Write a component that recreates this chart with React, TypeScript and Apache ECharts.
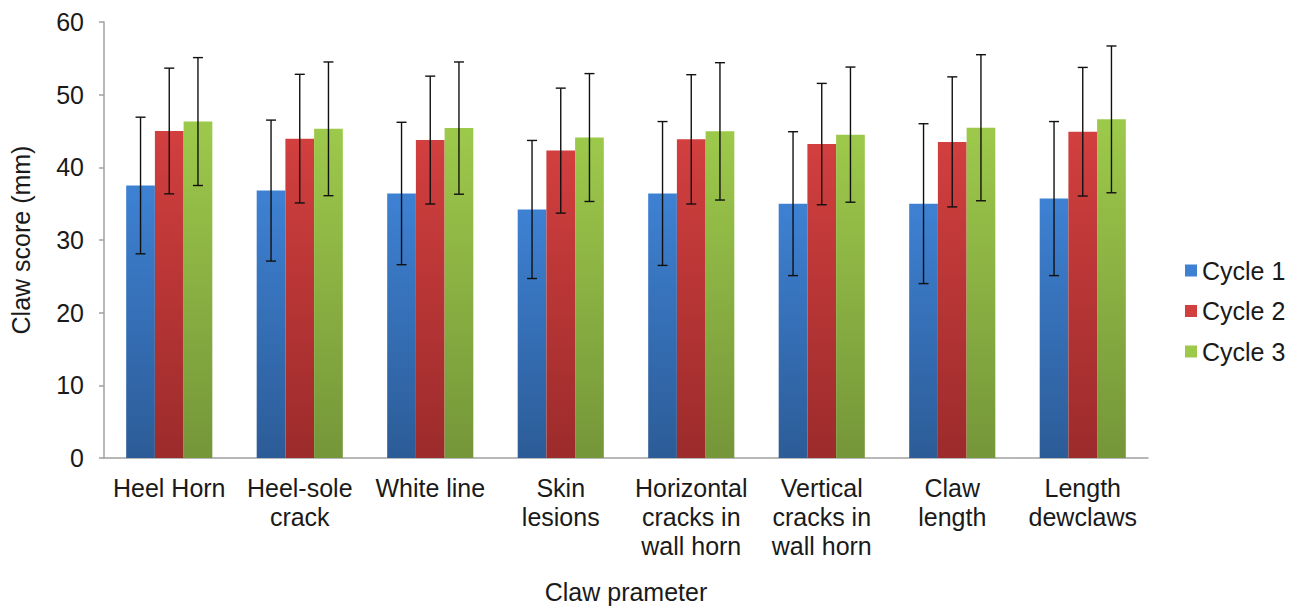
import React, { useEffect, useRef } from "react";
import * as echarts from "echarts";

const categories = [
  "Heel Horn",
  "Heel-sole\ncrack",
  "White line",
  "Skin\nlesions",
  "Horizontal\ncracks in\nwall horn",
  "Vertical\ncracks in\nwall horn",
  "Claw\nlength",
  "Length\ndewclaws",
];
const seriesNames = ["Cycle 1", "Cycle 2", "Cycle 3"];
const cycle1Mean = [37.5, 36.8, 36.4, 34.2, 36.4, 35.0, 35.0, 35.7];
const cycle1Sd = [9.4, 9.7, 9.8, 9.5, 9.9, 9.9, 11.0, 10.6];
const cycle2Mean = [45.0, 43.95, 43.75, 42.3, 43.85, 43.2, 43.5, 44.9];
const cycle2Sd = [8.65, 8.85, 8.8, 8.6, 8.9, 8.35, 8.95, 8.85];
const cycle3Mean = [46.3, 45.3, 45.4, 44.1, 44.95, 44.5, 45.45, 46.6];
const cycle3Sd = [8.8, 9.2, 9.1, 8.8, 9.45, 9.3, 10.05, 10.1];
const yTicks = { min: 0, max: 60, interval: 10 };

const FONT = "Arial, 'Liberation Sans', sans-serif";
const colors = [
  ["#3e81d3", "#2c5c97"],
  ["#d23f3f", "#9c2b2b"],
  ["#9dc94b", "#759639"],
];
const CAT_GAP = 0.34;

export default function App() {
  const ref = useRef<HTMLDivElement>(null);
  useEffect(() => {
    if (!ref.current) return;
    const chart = echarts.init(ref.current, null, { renderer: "svg" });
    const means = [cycle1Mean, cycle2Mean, cycle3Mean];
    const sds = [cycle1Sd, cycle2Sd, cycle3Sd];
    const grad = (c: string[]) =>
      new echarts.graphic.LinearGradient(0, 0, 0, 1, [
        { offset: 0, color: c[0] },
        { offset: 1, color: c[1] },
      ]);
    const barSeries = seriesNames.map((name, k) => ({
      name,
      type: "bar",
      data: means[k],
      barGap: "0%",
      barCategoryGap: CAT_GAP * 100 + "%",
      itemStyle: { color: grad(colors[k]) },
      z: 2,
    }));
    const errSeries = seriesNames.map((name, k) => ({
      name: name + " error",
      type: "custom",
      z: 5,
      encode: { x: 0, y: 1 },
      data: means[k].map((m, i) => [i, m, sds[k][i]]),
      renderItem: (params: any, api: any) => {
        const idx = api.value(0);
        const m = api.value(1);
        const sd = api.value(2);
        const c = api.coord([idx, m]);
        const band = api.size([1, 0])[0];
        const bw = (band * (1 - CAT_GAP)) / 3;
        const x = c[0] + (k - 1) * bw;
        const top = api.coord([idx, m + sd])[1];
        const bot = api.coord([idx, m - sd])[1];
        const st = { stroke: "#111", lineWidth: 1.4 };
        return {
          type: "group",
          children: [
            { type: "line", shape: { x1: x, y1: top, x2: x, y2: bot }, style: st },
            { type: "line", shape: { x1: x - 5, y1: top, x2: x + 5, y2: top }, style: st },
            { type: "line", shape: { x1: x - 5, y1: bot, x2: x + 5, y2: bot }, style: st },
          ],
        };
      },
    }));
    chart.setOption({
      animation: false,
      backgroundColor: "#ffffff",
      textStyle: { fontFamily: FONT },
      grid: { left: 103, right: 155, top: 22, bottom: 147, containLabel: false },
      legend: {
        data: seriesNames.map((n, k) => ({ name: n, itemStyle: { color: colors[k][0] } })),
        orient: "vertical",
        left: 1180,
        top: 253,
        icon: "rect",
        itemWidth: 12,
        itemHeight: 12,
        itemGap: 15.5,
        textStyle: { fontSize: 25, color: "#1a1a1a", fontFamily: FONT, lineHeight: 25 },
      },
      xAxis: {
        type: "category",
        data: categories,
        name: "Claw prameter",
        nameLocation: "middle",
        nameGap: 121,
        nameTextStyle: { fontSize: 25, color: "#1a1a1a", fontFamily: FONT },
        axisLine: { lineStyle: { color: "#a0a0a0", width: 1.5 } },
        axisTick: { length: 7, lineStyle: { color: "#a0a0a0", width: 1.5 } },
        axisLabel: {
          interval: 0,
          margin: 15,
          fontSize: 25,
          lineHeight: 29,
          color: "#1a1a1a",
          fontFamily: FONT,
          align: "center",
        },
      },
      yAxis: {
        type: "value",
        min: yTicks.min,
        max: yTicks.max,
        interval: yTicks.interval,
        name: "Claw score (mm)",
        nameLocation: "middle",
        nameGap: 71,
        nameTextStyle: { fontSize: 25, color: "#1a1a1a", fontFamily: FONT },
        axisLine: { show: true, lineStyle: { color: "#a0a0a0", width: 1.5 } },
        axisTick: { show: true, length: 5, lineStyle: { color: "#a0a0a0", width: 1.5 } },
        splitLine: { show: false },
        axisLabel: { margin: 20, fontSize: 25, color: "#1a1a1a", fontFamily: FONT },
      },
      series: [...barSeries, ...errSeries],
    });
    return () => chart.dispose();
  }, []);
  return (
    <div
      ref={ref}
      style={{ position: "fixed", left: 0, top: 0, width: 1303, height: 609, background: "#fff" }}
    />
  );
}
